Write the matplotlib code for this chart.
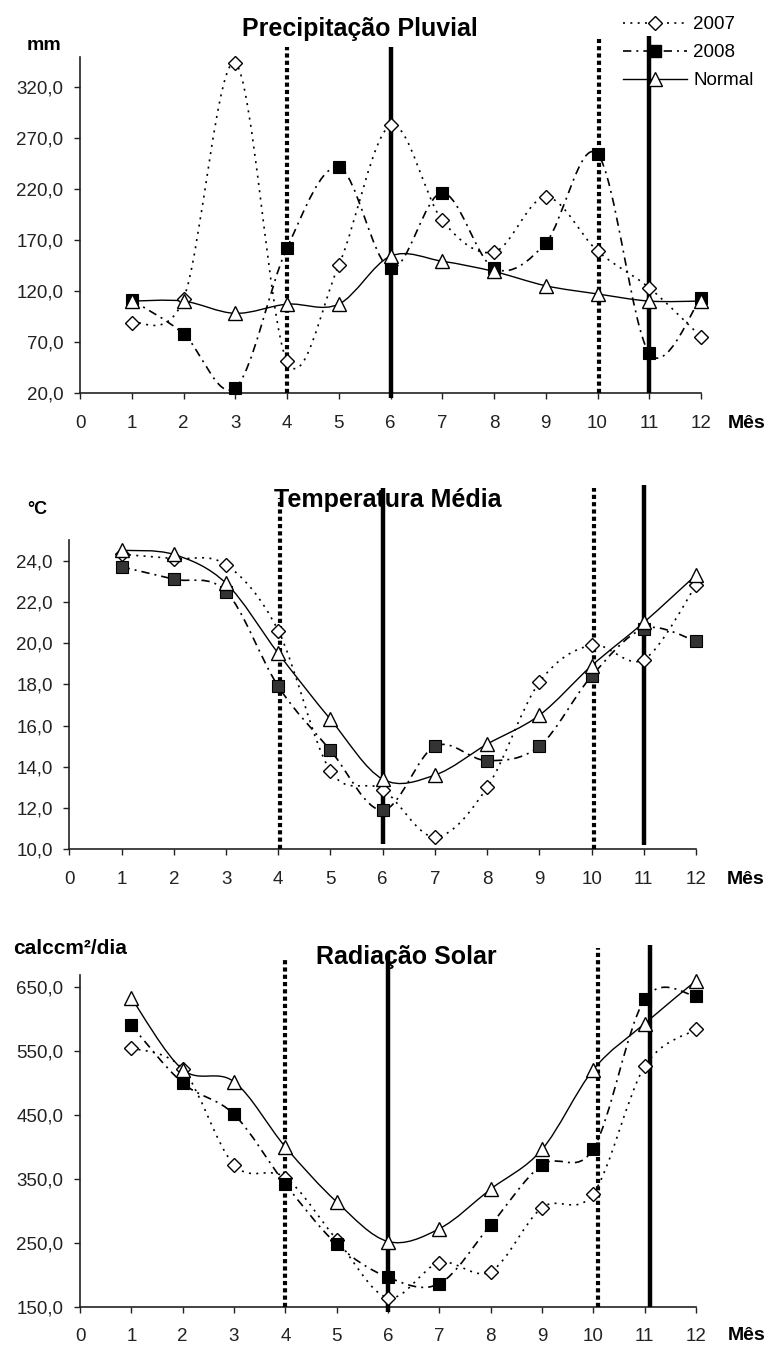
import numpy as np
import matplotlib
matplotlib.use("Agg")
import matplotlib.pyplot as plt
from matplotlib.path import Path
from matplotlib.patches import PathPatch
from matplotlib.lines import Line2D
from matplotlib.ticker import FuncFormatter

plt.rcParams['font.family'] = ['Liberation Sans', 'DejaVu Sans']

# ---- data -------------------------------------------------------------
meses = [1, 2, 3, 4, 5, 6, 7, 8, 9, 10, 11, 12]
series_labels = ["2007", "2008", "Normal"]

chuva_2007 = [89, 112, 343, 51, 145, 282, 189, 158, 212, 159, 123, 75]
chuva_2008 = [111, 78, 25, 162, 241, 142, 216, 142, 167, 254, 59, 113]
chuva_normal = [110, 110, 98, 107, 107, 154, 149, 139, 125, 117, 110, 110]

temp_2007 = [24.3, 24.1, 23.8, 20.6, 13.8, 12.9, 10.6, 13.0, 18.1, 19.9, 19.2, 22.8]
temp_2008 = [23.7, 23.1, 22.5, 17.9, 14.8, 11.9, 15.0, 14.3, 15.0, 18.4, 20.7, 20.1]
temp_normal = [24.5, 24.3, 22.9, 19.5, 16.3, 13.4, 13.6, 15.1, 16.5, 18.9, 21.0, 23.3]

rad_2007 = [555, 522, 372, 352, 255, 164, 219, 205, 305, 327, 526, 584]
rad_2008 = [590, 500, 451, 342, 248, 196, 186, 278, 372, 397, 631, 636]
rad_normal = [633, 521, 502, 400, 314, 252, 272, 334, 396, 521, 593, 660]

W, H = 773, 1346
fig = plt.figure(figsize=(W / 100, H / 100), dpi=100)


def px_axes(left, top, right, bottom):
    return fig.add_axes([left / W, 1 - bottom / H, (right - left) / W, (bottom - top) / H])


def smooth_path(xs, ys):
    """Cubic Bezier path through the points (Catmull-Rom style tangents)."""
    pts = np.column_stack([xs, ys]).astype(float)
    n = len(pts)
    verts = [pts[0]]
    codes = [Path.MOVETO]
    for i in range(n - 1):
        p0 = pts[i - 1] if i > 0 else pts[i]
        p1 = pts[i]
        p2 = pts[i + 1]
        p3 = pts[i + 2] if i + 2 < n else pts[i + 1]
        c1 = p1 + (p2 - p0) / 6.0
        c2 = p2 - (p3 - p1) / 6.0
        verts += [c1, c2, p2]
        codes += [Path.CURVE4] * 3
    return Path(verts, codes)


STYLE_2007 = dict(ls=(0, (1.2, 3.2)), lw=1.2)
STYLE_2008 = dict(ls=(0, (5, 3, 1.2, 3)), lw=1.2)
STYLE_NORMAL = dict(ls='-', lw=1.0)

fmt = FuncFormatter(lambda v, p: f"{v:.1f}".replace('.', ','))


def panel(ax, s07, s08, sn, ylim, yticks, sq_color, vlines):
    for ys, st in ((s07, STYLE_2007), (s08, STYLE_2008), (sn, STYLE_NORMAL)):
        patch = PathPatch(smooth_path(meses, ys), fill=False, edgecolor='black',
                          linestyle=st['ls'], linewidth=st['lw'], zorder=2, clip_on=False)
        ax.add_patch(patch)
    ax.plot(meses, s07, ls='none', marker='D', ms=6.8, mfc='white', mec='black', mew=1.0,
            zorder=4, clip_on=False)
    ax.plot(meses, s08, ls='none', marker='s', ms=9.0, mfc=sq_color, mec='black', mew=0.8,
            zorder=4, clip_on=False)
    ax.plot(meses, sn, ls='none', marker='^', ms=10.5, mfc='white', mec='black', mew=1.0,
            zorder=4, clip_on=False)

    for x, kind, y0, y1 in vlines:
        if kind == 'dot':
            ax.plot([x, x], [y0, y1], transform=ax.get_xaxis_transform(), color='black',
                    lw=3.0, ls=(0, (1.0, 0.75)), solid_capstyle='butt', dash_capstyle='butt',
                    clip_on=False, zorder=3)
        else:
            ax.plot([x, x], [y0, y1], transform=ax.get_xaxis_transform(), color='black',
                    lw=3.2, solid_capstyle='butt', clip_on=False, zorder=3)

    ax.set_xlim(0, 12)
    ax.set_ylim(*ylim)
    ax.set_xticks(range(0, 13))
    ax.set_yticks(yticks)
    ax.yaxis.set_major_formatter(fmt)
    for side in ('top', 'right'):
        ax.spines[side].set_visible(False)
    for side in ('left', 'bottom'):
        ax.spines[side].set_linewidth(1.2)
        ax.spines[side].set_color('#222222')
    ax.tick_params(axis='y', direction='out', length=4.5, width=1.0, pad=7.5,
                   labelsize=13.5, colors='#222222')
    ax.tick_params(axis='x', direction='out', length=4.5, width=1.0, pad=11,
                   labelsize=13.5, colors='#222222')
    ax.patch.set_alpha(0)


def ftext(x, y, s, **kw):
    fig.text(x / W, 1 - y / H, s, **kw)


# Precipitation
ax1 = px_axes(80, 57, 701, 393)
panel(ax1, chuva_2007, chuva_2008, chuva_normal, (20, 349), range(20, 321, 50), 'black',
      [(4, 'dot', 0, 1.03), (6, 'solid', -0.015, 1.03),
       (10.03, 'dot', 0, 1.054), (11, 'solid', 0, 1.062)])
ftext(360, 29, "Precipitação Pluvial", ha='center', va='center', fontsize=18, fontweight='bold')
ftext(44, 45, "mm", ha='center', va='center', fontsize=14, fontweight='bold')
ftext(728, 423, "Mês", ha='left', va='center', fontsize=14, fontweight='bold')

# Temperature
ax2 = px_axes(69.4, 540, 696, 849.3)
panel(ax2, temp_2007, temp_2008, temp_normal, (10, 25), range(10, 25, 2), '#333333',
      [(4.04, 'dot', 0, 1.136), (6, 'solid', 0.017, 1.167),
       (10.04, 'dot', 0, 1.167), (11, 'solid', 0.014, 1.177)])
ftext(388, 500, "Temperatura Média", ha='center', va='center', fontsize=18, fontweight='bold')
ftext(37, 510, "°C", ha='center', va='center', fontsize=13, fontweight='bold')
ftext(727, 880, "Mês", ha='left', va='center', fontsize=14, fontweight='bold')

# Solar radiation
ax3 = px_axes(80, 975, 696, 1306.7)
panel(ax3, rad_2007, rad_2008, rad_normal, (150, 669), range(150, 651, 100), 'black',
      [(4, 'dot', 0, 1.05), (6, 'solid', -0.016, 1.066),
       (10.1, 'dot', 0, 1.08), (11.1, 'solid', 0, 1.09)])
ftext(406, 957, "Radiação Solar", ha='center', va='center', fontsize=18, fontweight='bold')
ftext(13, 948, "calccm²/dia", ha='left', va='center', fontsize=15, fontweight='bold')
ftext(728, 1335, "Mês", ha='left', va='center', fontsize=14, fontweight='bold')

# Legend
handles = [
    Line2D([], [], color='black', ls=STYLE_2007['ls'], lw=STYLE_2007['lw'],
           marker='D', ms=6.8, mfc='white', mec='black'),
    Line2D([], [], color='black', ls=STYLE_2008['ls'], lw=STYLE_2008['lw'],
           marker='s', ms=9.0, mfc='black', mec='black'),
    Line2D([], [], color='black', ls=STYLE_NORMAL['ls'], lw=STYLE_NORMAL['lw'],
           marker='^', ms=10.5, mfc='white', mec='black'),
]
fig.legend(handles, series_labels, loc='upper left', bbox_to_anchor=(623 / W, 1 - 16 / H),
           frameon=False, fontsize=13.5, handlelength=3.4, handletextpad=0.35,
           labelspacing=0.58, borderpad=0, borderaxespad=0, numpoints=1)

fig.savefig("out.png", dpi=100)
